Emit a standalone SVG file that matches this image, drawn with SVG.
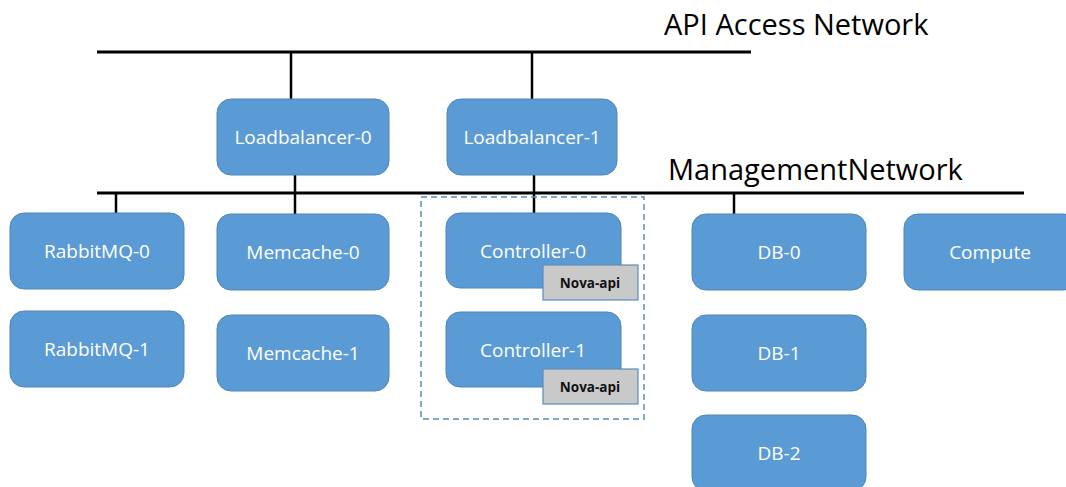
<svg xmlns="http://www.w3.org/2000/svg" width="1066" height="487" viewBox="0 0 1066 487">
<style>
.box{fill:#5B9BD5;stroke:#4F86B8;stroke-width:1}
.lbl{font-family:"Open Sans","Noto Sans","Liberation Sans",sans-serif;font-size:19px;fill:#FFFFFF;text-anchor:middle}
.tag{fill:#C9C9C9;stroke:#5B8DB8;stroke-width:1.2}
.tagt{font-family:"Open Sans","Liberation Sans",sans-serif;font-size:13.5px;font-weight:bold;fill:#111;text-anchor:middle}
.net{stroke:#000;stroke-width:3;fill:none}
.wire{stroke:#000;stroke-width:2.5;fill:none}
.title{font-family:"Open Sans","Noto Sans","Liberation Sans",sans-serif;font-size:29px;fill:#000}
</style>
<rect width="1066" height="487" fill="#fff"/>
<g id="connectors">
<line class="net" x1="97" y1="52" x2="751" y2="52"/>
<line class="net" x1="97" y1="193" x2="1024" y2="193"/>
<line class="wire" x1="291" y1="52" x2="291" y2="99"/>
<line class="wire" x1="532" y1="52" x2="532" y2="99"/>
<line class="wire" x1="295" y1="175" x2="295" y2="214"/>
<line class="wire" x1="534" y1="175" x2="534" y2="213"/>
<line class="wire" x1="116" y1="193" x2="116" y2="213"/>
<line class="wire" x1="734" y1="193" x2="734" y2="214"/>
</g>
<g id="api-network"><text class="title" x="664" y="35">API Access Network</text></g>
<g id="management-network"><text class="title" x="668" y="180">ManagementNetwork</text></g>
<g id="controller-group"><rect x="421" y="197" width="223" height="222" fill="none" stroke="#5B8DB8" stroke-width="1.5" stroke-dasharray="6,4"/></g>
<g id="lb0"><rect class="box" x="217" y="99" width="172" height="76" rx="14"/><text class="lbl" x="303" y="144">Loadbalancer-0</text></g>
<g id="lb1"><rect class="box" x="447" y="99" width="170" height="76" rx="14"/><text class="lbl" x="532" y="144">Loadbalancer-1</text></g>
<g id="rabbitmq0"><rect class="box" x="10" y="213" width="174" height="76" rx="14"/><text class="lbl" x="97" y="258">RabbitMQ-0</text></g>
<g id="rabbitmq1"><rect class="box" x="10" y="311" width="174" height="76" rx="14"/><text class="lbl" x="97" y="356">RabbitMQ-1</text></g>
<g id="memcache0"><rect class="box" x="217" y="214" width="172" height="76" rx="14"/><text class="lbl" x="303" y="259">Memcache-0</text></g>
<g id="memcache1"><rect class="box" x="217" y="315" width="172" height="76" rx="14"/><text class="lbl" x="303" y="360">Memcache-1</text></g>
<g id="controller0"><rect class="box" x="446" y="213" width="175" height="75" rx="14"/><text class="lbl" x="533" y="258">Controller-0</text>
<rect class="tag" x="543" y="265" width="95" height="35"/><text class="tagt" x="590" y="288">Nova-api</text></g>
<g id="controller1"><rect class="box" x="446" y="312" width="175" height="75" rx="14"/><text class="lbl" x="533" y="357">Controller-1</text>
<rect class="tag" x="543" y="369" width="95" height="35"/><text class="tagt" x="590" y="392">Nova-api</text></g>
<g id="db0"><rect class="box" x="692" y="214" width="174" height="76" rx="14"/><text class="lbl" x="779" y="259">DB-0</text></g>
<g id="db1"><rect class="box" x="692" y="315" width="174" height="76" rx="14"/><text class="lbl" x="779" y="360">DB-1</text></g>
<g id="db2"><rect class="box" x="692" y="415" width="174" height="76" rx="14"/><text class="lbl" x="779" y="460">DB-2</text></g>
<g id="compute"><rect class="box" x="904" y="214" width="174" height="76" rx="14"/><text class="lbl" x="990" y="259">Compute</text></g>
</svg>
